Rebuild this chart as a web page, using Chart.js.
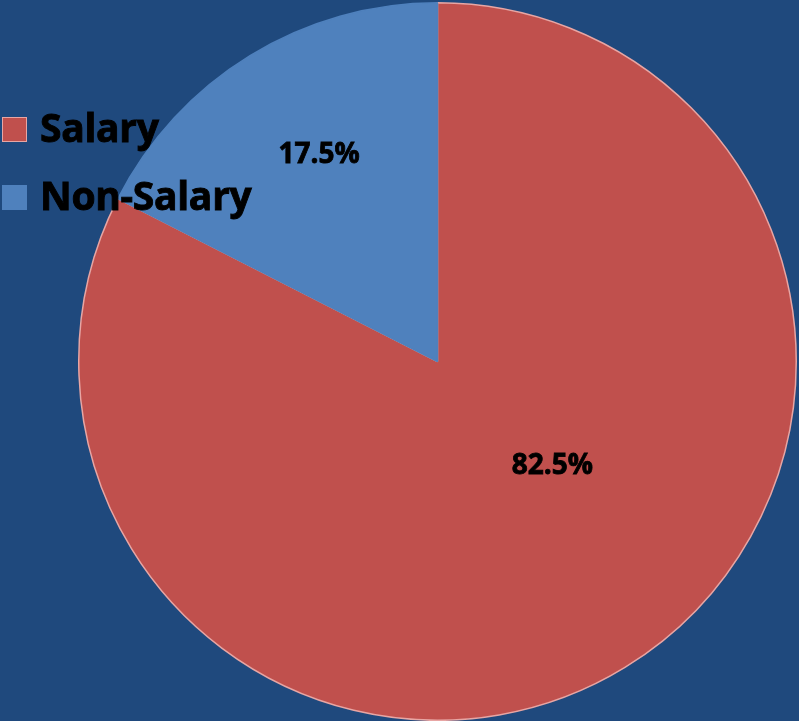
<!DOCTYPE html>
<html>
<head>
<meta charset="utf-8">
<script src="https://cdn.jsdelivr.net/npm/chart.js@4/dist/chart.umd.min.js"></script>
<style>
  html, body { margin: 0; padding: 0; background: #1F497D; }
  #wrap { position: relative; width: 799px; height: 721px; }
  #legend { position: absolute; left: 0; top: 0; }
  .item { position: absolute; left: 2px; white-space: nowrap; font-family: "Open Sans", sans-serif; font-weight: bold; font-size: 39px; color: #000; line-height: 40px; letter-spacing: -0.3px; -webkit-text-stroke: 0.9px #000; }
  .box { position: absolute; left: 0; top: 7px; width: 25px; height: 25px; box-sizing: border-box; }
  .item span.txt { position: absolute; left: 38px; top: -3px; }
</style>
</head>
<body>
<div id="wrap">
  <canvas id="myChart" width="799" height="721"></canvas>
  <div id="legend"></div>
</div>
<script>
const categories = ["Salary", "Non-Salary"];
const shares = [82.5, 17.5];
const sliceColors = ["#C0504D", "#4F81BD"];
const sliceBorders = ["#E8A6A4", "#4F81BD"];

// legend (top of each row)
const legendTops = [110, 178];
const legend = document.getElementById("legend");
categories.forEach((name, i) => {
  const item = document.createElement("div");
  item.className = "item";
  item.style.top = legendTops[i] + "px";
  const box = document.createElement("div");
  box.className = "box";
  box.style.background = sliceColors[i];
  box.style.border = "1px solid " + (i === 0 ? "#E8A6A4" : sliceColors[i]);
  const txt = document.createElement("span");
  txt.className = "txt";
  txt.innerText = name;
  item.appendChild(box);
  item.appendChild(txt);
  legend.appendChild(item);
});

// label offsets from the centre, in radius units
const labelOffsets = [[0.32, 0.29], [-0.33, -0.575]];

const pieLabels = {
  id: "pieLabels",
  afterDatasetsDraw(chart) {
    const ctx = chart.ctx;
    const meta = chart.getDatasetMeta(0);
    ctx.save();
    ctx.font = "bold 28px 'Open Sans'";
    ctx.fillStyle = "#000";
    ctx.strokeStyle = "#000";
    ctx.lineWidth = 0.8;
    ctx.textAlign = "center";
    ctx.textBaseline = "middle";
    meta.data.forEach((arc, i) => {
      const r = arc.outerRadius;
      const txt = shares[i].toFixed(1) + "%";
      const x = arc.x + labelOffsets[i][0] * r;
      const y = arc.y + labelOffsets[i][1] * r;
      ctx.fillText(txt, x, y);
      ctx.strokeText(txt, x, y);
    });
    ctx.restore();
  }
};

const ctx = document.getElementById("myChart").getContext("2d");
const chart = new Chart(ctx, {
  type: "pie",
  data: {
    labels: categories,
    datasets: [{
      data: shares,
      backgroundColor: sliceColors,
      borderColor: sliceBorders,
      borderWidth: 1.5
    }]
  },
  options: {
    responsive: false,
    animation: false,
    layout: { padding: { left: 78, right: 2, top: 2, bottom: 0 } },
    plugins: {
      legend: { display: false },
      tooltip: { enabled: false }
    }
  },
  plugins: [pieLabels]
});
</script>
</body>
</html>
